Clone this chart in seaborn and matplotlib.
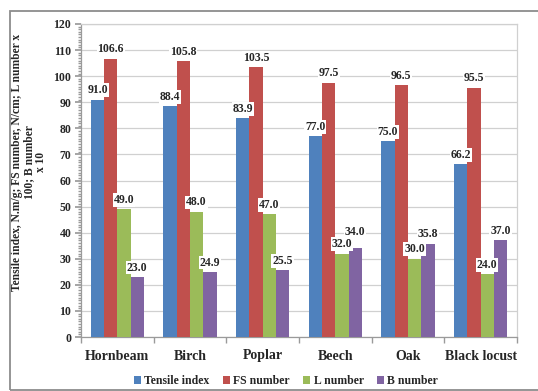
import matplotlib
matplotlib.use("Agg")
import matplotlib.pyplot as plt
from matplotlib.patches import Rectangle
from matplotlib.ticker import MultipleLocator, FixedLocator
import seaborn as sns
import pandas as pd

species = ["Hornbeam", "Birch", "Poplar", "Beech", "Oak", "Black locust"]
tensile_index = [91.0, 88.4, 83.9, 77.0, 75.0, 66.2]
fs_number = [106.6, 105.8, 103.5, 97.5, 96.5, 95.5]
l_number = [49.0, 48.0, 47.0, 32.0, 30.0, 24.0]
b_number = [23.0, 24.9, 25.5, 34.0, 35.8, 37.0]
series_names = ["Tensile index", "FS number", "L number", "B number"]
colors = ["#4F81BD", "#C0504D", "#9BBB59", "#8064A2"]

rows = []
for name, vals in zip(series_names, [tensile_index, fs_number, l_number, b_number]):
    for sp, v in zip(species, vals):
        rows.append({"species": sp, "series": name, "value": v})
df = pd.DataFrame(rows)

sns.set_theme(style="white")
plt.rcParams["font.family"] = ["Liberation Serif", "DejaVu Serif"]
plt.rcParams["font.weight"] = "bold"

fig = plt.figure(figsize=(5.38, 3.91), dpi=100)
ax = fig.add_axes([81 / 538, 1 - 337 / 391, (517 - 81) / 538, (337 - 24) / 391])

# outer chart frame
fig.patches.append(Rectangle((10 / 538, 1 - 390 / 391), 1.0, (390 - 11) / 391,
                             transform=fig.transFigure, fill=False,
                             edgecolor="#8c8c8c", linewidth=1.3, zorder=0))

sns.barplot(data=df, x="species", y="value", hue="series", order=species,
            hue_order=series_names, palette=colors, width=0.73, saturation=1,
            edgecolor="none", ax=ax, zorder=3)

ax.set_ylim(0, 120)
ax.set_xlim(-0.5, len(species) - 0.5)
ax.yaxis.set_major_locator(MultipleLocator(10))
ax.yaxis.set_minor_locator(MultipleLocator(1))
ax.grid(axis="y", color="#d0d0d0", linewidth=0.9, zorder=0)
ax.set_axisbelow(True)

for side in ["top", "right"]:
    ax.spines[side].set_color("#d0d0d0")
    ax.spines[side].set_linewidth(0.9)
for side in ["left", "bottom"]:
    ax.spines[side].set_color("#9a9a9a")
    ax.spines[side].set_linewidth(0.9)

ax.tick_params(axis="y", which="major", length=4, color="#9a9a9a", left=True,
               labelsize=8.5, pad=3)
ax.tick_params(axis="y", which="minor", length=2.5, color="#9a9a9a", left=True)
ax.xaxis.set_minor_locator(FixedLocator([i + 0.5 for i in range(-1, len(species))]))
ax.tick_params(axis="x", which="major", length=0, labelsize=10, pad=9)
ax.tick_params(axis="x", which="minor", length=4, color="#9a9a9a", bottom=True)
for lab in ax.get_xticklabels() + ax.get_yticklabels():
    lab.set_fontweight("bold")

ax.set_xlabel("")
ax.set_ylabel("Tensile index, N.m/g; FS number, N/cm; L number x\n100; B number\nx 10",
              fontsize=8.3, fontweight="bold", linespacing=1.0)
ax.yaxis.set_label_coords((47 - 81) / 436, (337 - 162) / 313)

# value labels above each bar
label_sets = []
for container in ax.containers:
    label_sets.append(ax.bar_label(container, fmt="%.1f", padding=2.5, fontsize=8.5,
                                   fontweight="bold",
                                   bbox=dict(facecolor="white", edgecolor="none", pad=0.6),
                                   zorder=5))

# lift a B-number label when it sits at nearly the same height as its L-number neighbour
for i, (lv, bv) in enumerate(zip(l_number, b_number)):
    if abs(bv - lv) < 4:
        ann = label_sets[3][i]
        x, y = ann.xyann
        ann.xyann = (x, y + 5)

handles, labels = ax.get_legend_handles_labels()
ax.legend(handles, labels, loc="center", bbox_to_anchor=(286 / 538, 1 - 381 / 391),
          bbox_transform=fig.transFigure, ncol=4, frameon=False,
          handlelength=0.6, handleheight=0.6, handletextpad=0.3,
          columnspacing=1.1, prop={"weight": "bold", "size": 8.5})

fig.savefig("out.png", dpi=100)
